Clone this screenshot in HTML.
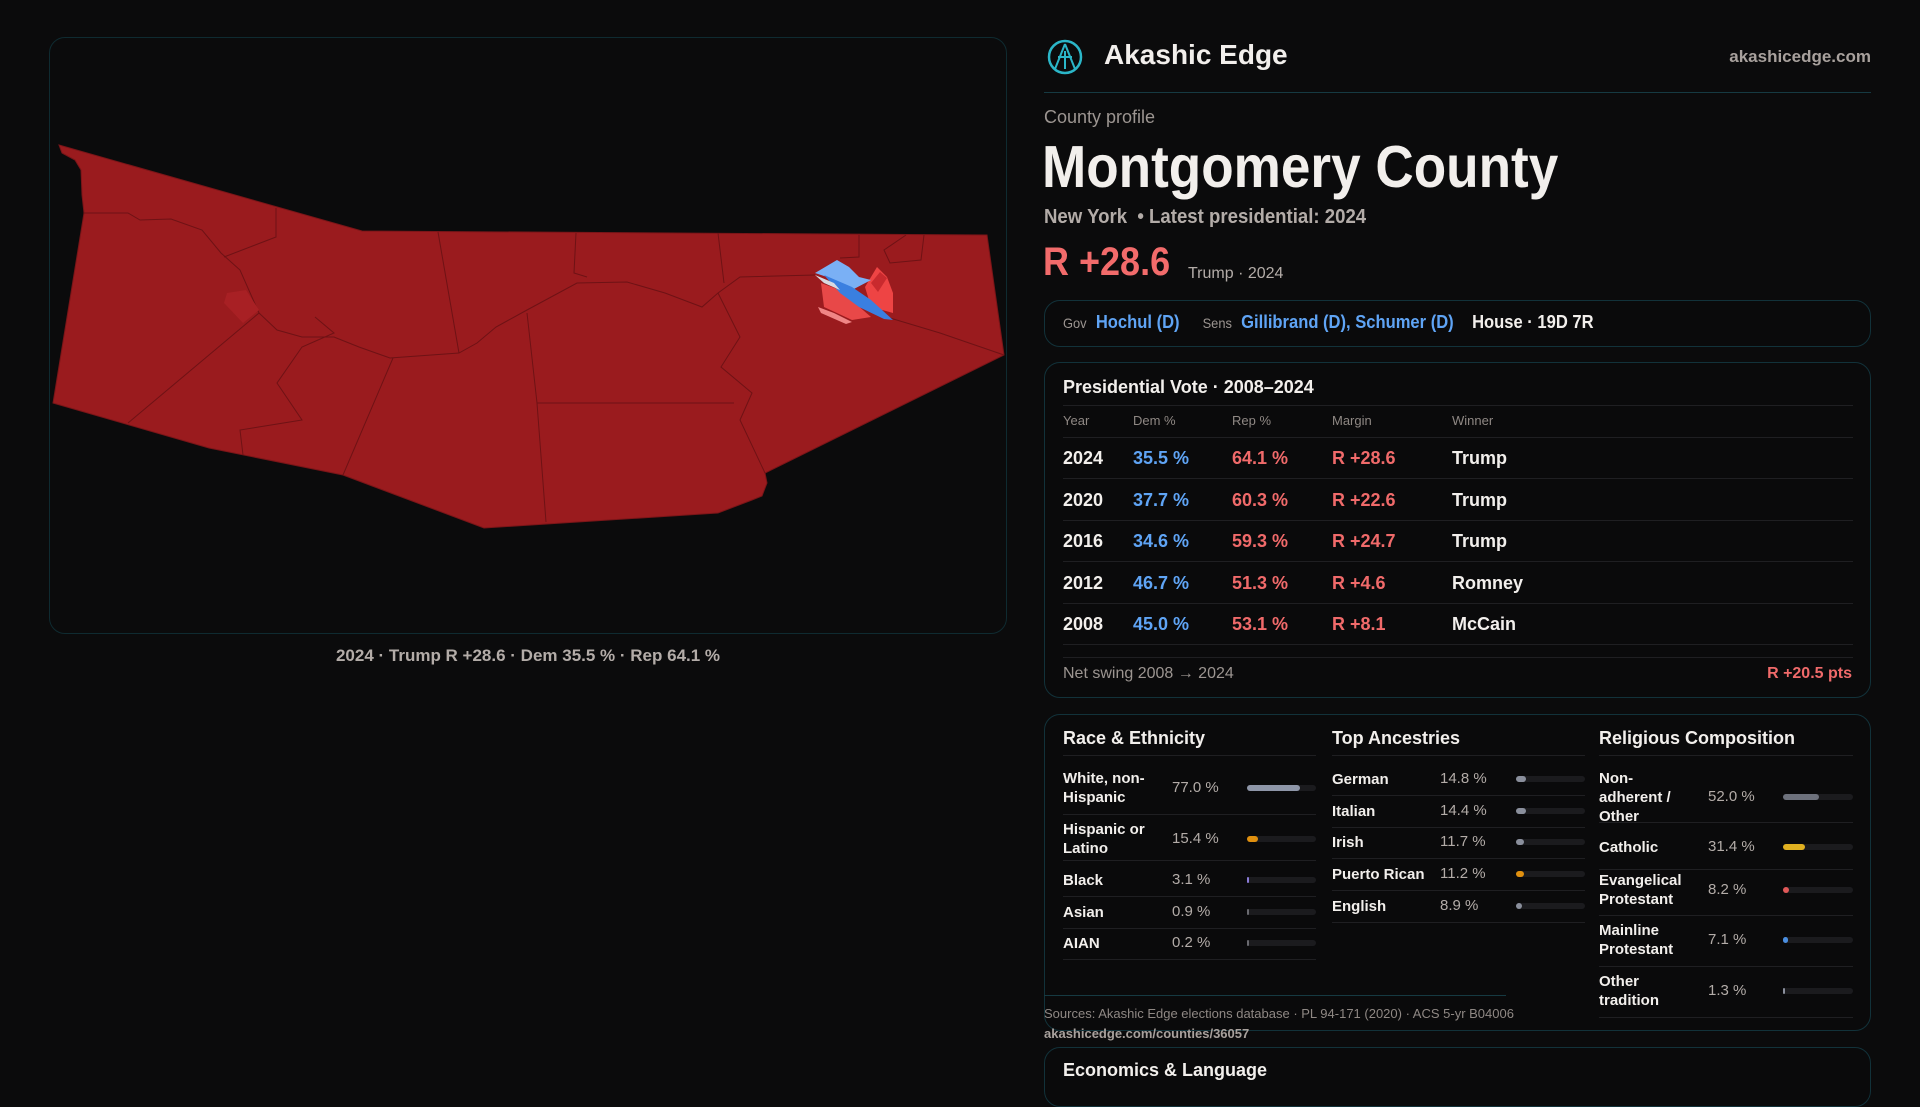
<!DOCTYPE html>
<html><head><meta charset="utf-8">
<style>
*{box-sizing:border-box;margin:0;padding:0}
body{width:1920px;height:1080px;background:#0b0b0c;font-family:"Liberation Sans",sans-serif;color:#f2efec;position:relative;overflow:hidden}
.abs{position:absolute;white-space:nowrap}
.panel{position:absolute;border:1.5px solid #12323a;border-radius:16px;background:#0a0a0b}
.blue{color:#5fa4f5}.red{color:#f06a6a}.mut{color:#9c9591}
.hl{position:absolute;height:1px;background:#1f1f22}
.track{position:absolute;height:6px;border-radius:3px;background:#1b1b1e}
.fill{position:absolute;left:0;top:0;height:6px;border-radius:3px}
.lbl{font-size:15px;line-height:19px;color:#f2efec;font-weight:bold}
.val{font-size:15px;color:#b3aca8}
</style></head><body>
<div class="panel" style="left:49px;top:37px;width:958px;height:597px;border-color:#0f2b31;background:#0b0b0c"></div>
<svg class="abs" style="left:0;top:0" width="1920" height="1080">
<polygon fill="#9a1b1e" stroke="#7a1518" stroke-width="1" points="59,145 362,231 987,235 1004,355 765,473 767,483 762,496 752,500 718,513 484,528 343,475 209,448 53,403 84,213 82,195 81,170 75,160 62,153"/>
<g fill="none" stroke="#6e1215" stroke-width="1">
<path d="M84,213 L128,213 L140,220 L171,219 L202,230 L221,253 L240,270 L259,313 L277,330 L302,337 L334,337 L359,347 L390,358 L459,353 L477,343 L496,327 L527,310 L577,283 L627,282 L665,293 L702,307 L718,293 L740,277 L815,275"/>
<path d="M890,318 L940,333 L1004,355"/>
<path d="M276,208 L276,237 L224,257"/><path d="M438,232 L459,353"/><path d="M576,233 L574,273 L587,277"/><path d="M718,233 L724,283"/>
<path d="M859,235 L859,257 L840,258"/><path d="M906,235 L884,250 L890,263 L921,260 L924,235"/>
<path d="M527,313 L537,403 L546,522"/><path d="M537,403 L734,403"/>
<path d="M718,293 L740,337 L721,367 L752,393 L740,420 L765,473"/>
<path d="M393,358 L343,475"/><path d="M259,313 L128,423"/>
<path d="M315,317 L334,333 L302,347 L277,383 L302,420 L240,430 L243,455"/>
</g>
<polygon fill="#a82024" points="227,293 246,290 259,310 243,323 224,303"/>
<g>
<polygon fill="#e84848" points="821,283 840,290 871,317 852,320 824,307"/>
<polygon fill="#f08686" points="818,307 834,313 852,322 846,324 821,313"/>
<polygon fill="#ee4444" points="865,287 877,267 887,277 893,293 893,313 871,307"/>
<polygon fill="#c92a2e" points="871,283 880,272 887,278 878,292"/>
<polygon fill="#7ab0f5" points="815,273 837,260 849,267 859,277 871,280 852,290 827,277"/>
<polygon fill="#3a7fe0" points="824,275 852,287 871,300 893,320 884,319 859,307 840,293"/>
<polygon fill="#d8d8e0" points="815,275 834,283 840,290 824,283"/>
</g>
</svg>
<div class="abs" style="left:49px;width:958px;top:646px;text-align:center;font-size:17px;color:#b3aca8;font-weight:bold">2024 · Trump R +28.6 · Dem 35.5 % · Rep 64.1 %</div>

<svg class="abs" style="left:1047px;top:39px" width="36" height="36"><circle cx="18" cy="18" r="16" fill="none" stroke="#2bb6c8" stroke-width="2.5"/><path d="M18,5 L8,30 M18,5 L28,30 M11,18 L25,18 M18,12 L18,30" stroke="#2bb6c8" stroke-width="2" fill="none"/></svg>
<div class="abs" style="left:1104px;top:39px;font-size:28px;font-weight:bold">Akashic Edge</div>
<div class="abs" style="right:49px;top:47px;font-size:17px;font-weight:bold;color:#a8a19d">akashicedge.com</div>
<div class="hl" style="left:1044px;width:827px;top:92px;background:#163a42"></div>
<div class="abs mut" style="left:1044px;top:107px;font-size:18px">County profile</div>
<div class="abs" style="left:1042px;top:133px;font-size:59px;font-weight:bold;transform:scaleX(0.9);transform-origin:left top">Montgomery County</div>
<div class="abs" style="left:1044px;top:206px;font-size:20px;color:#b3aca8;font-weight:bold;transform:scaleX(0.93);transform-origin:left top">New York &nbsp;• Latest presidential: 2024</div>
<div class="abs red" style="left:1043px;top:240px;font-size:40px;font-weight:bold;color:#f26b6b;transform:scaleX(0.9);transform-origin:left top">R +28.6</div>
<div class="abs" style="left:1188px;top:265px;font-size:16px;color:#b3aca8">Trump · 2024</div>

<div class="panel" style="left:1044px;top:300px;width:827px;height:47px"></div>
<div class="abs" style="left:1063px;top:312px;font-size:18px;font-weight:bold;transform:scaleX(0.92);transform-origin:left top"><span class="mut" style="font-size:14px;font-weight:normal">Gov</span>&nbsp; <span class="blue">Hochul (D)</span>&nbsp;&nbsp;&nbsp;&nbsp; <span class="mut" style="font-size:14px;font-weight:normal">Sens</span>&nbsp; <span class="blue">Gillibrand (D), Schumer (D)</span>&nbsp;&nbsp;&nbsp; House · 19D 7R</div>

<div class="panel" style="left:1044px;top:362px;width:827px;height:336px"></div>
<div class="abs" style="left:1063px;top:377px;font-size:18px;font-weight:bold">Presidential Vote · 2008–2024</div>
<div class="hl" style="left:1063px;width:790px;top:405px"></div>
<div id="ptable"></div>
<div class="hl" style="left:1063px;width:790px;top:657px"></div>
<div class="abs mut" style="left:1063px;top:665px;font-size:16px">Net swing 2008 → 2024</div>
<div class="abs red" style="right:68px;top:665px;font-size:16px;font-weight:bold">R +20.5 pts</div>

<div class="panel" style="left:1044px;top:714px;width:827px;height:317px"></div>
<div class="abs" style="left:1063px;top:728px;font-size:18px;font-weight:bold">Race &amp; Ethnicity</div>
<div class="abs" style="left:1332px;top:728px;font-size:18px;font-weight:bold">Top Ancestries</div>
<div class="abs" style="left:1599px;top:728px;font-size:18px;font-weight:bold">Religious Composition</div>
<div id="demo"></div>
<div class="hl" style="left:1044px;width:462px;top:995px;background:#163a42"></div>
<div class="abs" style="left:1044px;top:1006px;font-size:13px;color:#8f8884">Sources: Akashic Edge elections database · PL 94-171 (2020) · ACS 5-yr B04006</div>
<div class="abs" style="left:1044px;top:1026px;font-size:13px;color:#a8a19d;font-weight:bold">akashicedge.com/counties/36057</div>
<div class="panel" style="left:1044px;top:1047px;width:827px;height:60px"></div>
<div class="abs" style="left:1063px;top:1060px;font-size:18px;font-weight:bold">Economics &amp; Language</div>

<script>
const years=["2024","2020","2016","2012","2008"];
const demPct=[35.5,37.7,34.6,46.7,45.0];
const repPct=[64.1,60.3,59.3,51.3,53.1];
const winners=["Trump","Trump","Trump","Romney","McCain"];
const raceLabels=["White, non-<br>Hispanic","Hispanic or<br>Latino","Black","Asian","AIAN"];
const raceValues=[77.0,15.4,3.1,0.9,0.2];
const ancLabels=["German","Italian","Irish","Puerto Rican","English"];
const ancValues=[14.8,14.4,11.7,11.2,8.9];
const relLabels=["Non-<br>adherent /<br>Other","Catholic","Evangelical<br>Protestant","Mainline<br>Protestant","Other<br>tradition"];
const relValues=[52.0,31.4,8.2,7.1,1.3];

const pt=document.getElementById('ptable');
function add(parent,html,style,name,cls){const d=document.createElement('div');d.className='abs '+(cls||'');d.innerHTML=html;d.style.cssText=style;


parent.appendChild(d);return d;}
const colX=[1063,1133,1232,1332,1452];
["Year","Dem %","Rep %","Margin","Winner"].forEach((h,i)=>add(pt,h,`left:${colX[i]}px;top:413px;font-size:13px;color:#8f8884`,'column-header','mut'));
add(pt,'','left:1063px;top:437px;width:790px;height:1px;background:#1f1f22','header-rule');
years.forEach((y,i)=>{const cy=458+i*41.5;const t=cy-10;
add(pt,y,`left:${colX[0]}px;top:${t}px;font-size:18px;font-weight:bold`,'row-year');
add(pt,demPct[i].toFixed(1)+' %',`left:${colX[1]}px;top:${t}px;font-size:18px;font-weight:bold;color:#5fa4f5`,'row-dem');
add(pt,repPct[i].toFixed(1)+' %',`left:${colX[2]}px;top:${t}px;font-size:18px;font-weight:bold;color:#f06a6a`,'row-rep');
const m=repPct[i]-demPct[i];
add(pt,(m>=0?'R +':'D +')+Math.abs(m).toFixed(1),`left:${colX[3]}px;top:${t}px;font-size:18px;font-weight:bold;color:#f06a6a`,'row-margin');
add(pt,winners[i],`left:${colX[4]}px;top:${t}px;font-size:18px;font-weight:bold`,'row-winner');
add(pt,'',`left:1063px;top:${cy+20}px;width:790px;height:1px;background:#1f1f22`,'row-rule');});

const demo=document.getElementById('demo');
function section(labels,vals,rows,x0,x1,valX,barX,colors,name){
 add(demo,'',`left:${x0}px;top:755px;width:${x1-x0}px;height:1px;background:#1f1f22`,name+'-rule');
 labels.forEach((l,i)=>{const cy=rows[i];const lines=l.split('<br>').length;
  add(demo,l,`left:${x0}px;top:${cy-lines*9.5}px;white-space:nowrap`,name+'-label','lbl');
  add(demo,vals[i].toFixed(1)+' %',`left:${valX}px;top:${cy-9}px`,name+'-value','val');
  const tr=document.createElement('div');tr.className='track';tr.style.cssText=`left:${barX}px;top:${cy-3}px;width:${x1-barX}px`;
  
  
  const f=document.createElement('div');f.className='fill';f.style.width=Math.max(2,vals[i]/100*(x1-barX))+'px';f.style.background=colors[i];
  
  
  tr.appendChild(f);demo.appendChild(tr);
  const nb=i<rows.length-1?(rows[i]+rows[i+1])/2:rows[i]+(rows[i]-rows[i-1])/2;
  add(demo,'',`left:${x0}px;top:${nb}px;width:${x1-x0}px;height:1px;background:#1f1f22`,name+'-row-rule');});
}
section(raceLabels,raceValues,[788,839,880,912,943],1063,1316,1172,1247,["#8e96a8","#e0900f","#8a7bd8","#6a6a70","#6a6a70"],'race');
section(ancLabels,ancValues,[779,811,842,874,906],1332,1585,1440,1516,["#8a8f9c","#8a8f9c","#8a8f9c","#e0900f","#8a8f9c"],'ancestry');
section(relLabels,relValues,[797,847,890,940,991],1599,1853,1708,1783,["#6d717c","#e0b020","#e05858","#4a8ee0","#8a8f9c"],'religion');
</script>
</body></html>
